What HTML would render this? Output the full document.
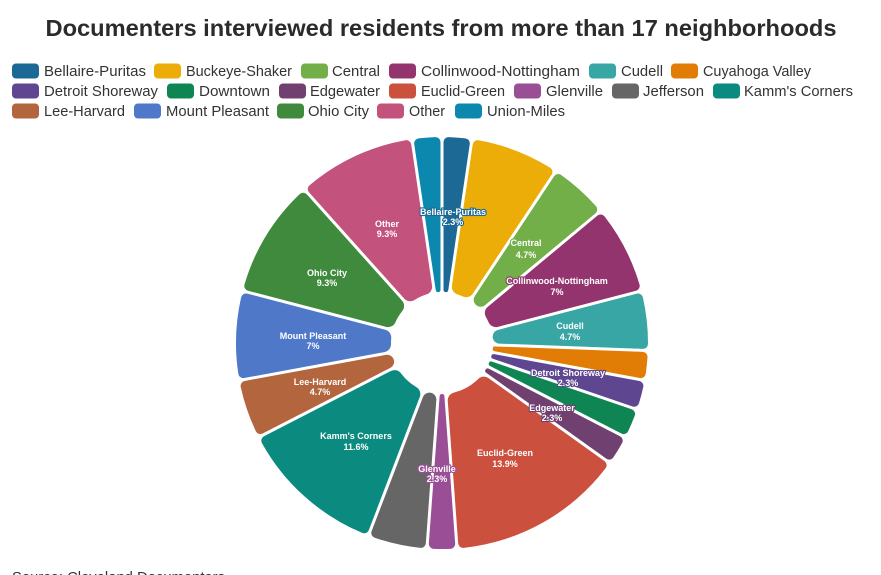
<!DOCTYPE html>
<html>
<head>
<meta charset="utf-8">
<style>
  html,body{margin:0;padding:0;background:#fff;}
  svg{display:block;}
  .lg{font-family:"Liberation Sans",sans-serif;font-size:15px;fill:#333;}
  .lb{font-family:"Liberation Sans",sans-serif;font-size:9px;font-weight:bold;fill:#fff;text-anchor:middle;paint-order:stroke;stroke-width:2.2px;stroke-linejoin:round;}
</style>
</head>
<body>
<svg width="881" height="575" viewBox="0 0 881 575" xmlns="http://www.w3.org/2000/svg">
  <rect width="881" height="575" fill="#fff"/>
  <text x="441" y="36" text-anchor="middle" font-family="Liberation Sans, sans-serif" font-weight="bold" font-size="23" fill="#2b2b2b" textLength="791" lengthAdjust="spacingAndGlyphs">Documenters interviewed residents from more than 17 neighborhoods</text>

  <!-- legend row 1 -->
  <rect x="12" y="63.5" width="27" height="15" rx="4" fill="#1D6996"/>
  <text class="lg" x="44" y="76" textLength="102" lengthAdjust="spacingAndGlyphs">Bellaire-Puritas</text>
  <rect x="154" y="63.5" width="27" height="15" rx="4" fill="#EDAD08"/>
  <text class="lg" x="186" y="76" textLength="106" lengthAdjust="spacingAndGlyphs">Buckeye-Shaker</text>
  <rect x="301" y="63.5" width="27" height="15" rx="4" fill="#73AF48"/>
  <text class="lg" x="332" y="76" textLength="48" lengthAdjust="spacingAndGlyphs">Central</text>
  <rect x="389" y="63.5" width="27" height="15" rx="4" fill="#94346E"/>
  <text class="lg" x="421" y="76" textLength="159" lengthAdjust="spacingAndGlyphs">Collinwood-Nottingham</text>
  <rect x="589" y="63.5" width="27" height="15" rx="4" fill="#38A6A5"/>
  <text class="lg" x="621" y="76" textLength="42" lengthAdjust="spacingAndGlyphs">Cudell</text>
  <rect x="671" y="63.5" width="27" height="15" rx="4" fill="#E17C05"/>
  <text class="lg" x="703" y="76" textLength="108" lengthAdjust="spacingAndGlyphs">Cuyahoga Valley</text>

  <!-- legend row 2 -->
  <rect x="12" y="83.5" width="27" height="15" rx="4" fill="#5F4690"/>
  <text class="lg" x="44" y="96" textLength="114" lengthAdjust="spacingAndGlyphs">Detroit Shoreway</text>
  <rect x="167" y="83.5" width="27" height="15" rx="4" fill="#0F8554"/>
  <text class="lg" x="199" y="96" textLength="71" lengthAdjust="spacingAndGlyphs">Downtown</text>
  <rect x="279" y="83.5" width="27" height="15" rx="4" fill="#6F4070"/>
  <text class="lg" x="310" y="96" textLength="70" lengthAdjust="spacingAndGlyphs">Edgewater</text>
  <rect x="389" y="83.5" width="27" height="15" rx="4" fill="#CC503E"/>
  <text class="lg" x="421" y="96" textLength="84" lengthAdjust="spacingAndGlyphs">Euclid-Green</text>
  <rect x="514" y="83.5" width="27" height="15" rx="4" fill="#994E95"/>
  <text class="lg" x="546" y="96" textLength="57" lengthAdjust="spacingAndGlyphs">Glenville</text>
  <rect x="612" y="83.5" width="27" height="15" rx="4" fill="#666666"/>
  <text class="lg" x="643" y="96" textLength="61" lengthAdjust="spacingAndGlyphs">Jefferson</text>
  <rect x="713" y="83.5" width="27" height="15" rx="4" fill="#0B8A80"/>
  <text class="lg" x="744" y="96" textLength="109" lengthAdjust="spacingAndGlyphs">Kamm's Corners</text>

  <!-- legend row 3 -->
  <rect x="12" y="103.5" width="27" height="15" rx="4" fill="#B3653D"/>
  <text class="lg" x="44" y="116" textLength="81" lengthAdjust="spacingAndGlyphs">Lee-Harvard</text>
  <rect x="134" y="103.5" width="27" height="15" rx="4" fill="#4F78C8"/>
  <text class="lg" x="166" y="116" textLength="103" lengthAdjust="spacingAndGlyphs">Mount Pleasant</text>
  <rect x="277" y="103.5" width="27" height="15" rx="4" fill="#3F8A3C"/>
  <text class="lg" x="308" y="116" textLength="61" lengthAdjust="spacingAndGlyphs">Ohio City</text>
  <rect x="377" y="103.5" width="27" height="15" rx="4" fill="#C3527D"/>
  <text class="lg" x="409" y="116" textLength="36" lengthAdjust="spacingAndGlyphs">Other</text>
  <rect x="455" y="103.5" width="27" height="15" rx="4" fill="#0C87AD"/>
  <text class="lg" x="487" y="116" textLength="78" lengthAdjust="spacingAndGlyphs">Union-Miles</text>

  <g id="slices"></g>

  <!-- slice labels -->
  <text class="lb" stroke="#1D6996" x="453" y="215">Bellaire-Puritas</text>
  <text class="lb" stroke="#1D6996" x="453" y="225">2.3%</text>
  <text class="lb" stroke="#73AF48" x="526" y="246">Central</text>
  <text class="lb" stroke="#73AF48" x="526" y="258">4.7%</text>
  <text class="lb" stroke="#94346E" x="557" y="284">Collinwood-Nottingham</text>
  <text class="lb" stroke="#94346E" x="557" y="295">7%</text>
  <text class="lb" stroke="#38A6A5" x="570" y="329">Cudell</text>
  <text class="lb" stroke="#38A6A5" x="570" y="340">4.7%</text>
  <text class="lb" stroke="#5F4690" x="568" y="376">Detroit Shoreway</text>
  <text class="lb" stroke="#5F4690" x="568" y="386">2.3%</text>
  <text class="lb" stroke="#6F4070" x="552" y="411">Edgewater</text>
  <text class="lb" stroke="#6F4070" x="552" y="421">2.3%</text>
  <text class="lb" stroke="#CC503E" x="505" y="456">Euclid-Green</text>
  <text class="lb" stroke="#CC503E" x="505" y="467">13.9%</text>
  <text class="lb" stroke="#994E95" x="437" y="472">Glenville</text>
  <text class="lb" stroke="#994E95" x="437" y="482">2.3%</text>
  <text class="lb" stroke="#0B8A80" x="356" y="439">Kamm's Corners</text>
  <text class="lb" stroke="#0B8A80" x="356" y="450">11.6%</text>
  <text class="lb" stroke="#B3653D" x="320" y="385">Lee-Harvard</text>
  <text class="lb" stroke="#B3653D" x="320" y="395">4.7%</text>
  <text class="lb" stroke="#4F78C8" x="313" y="339">Mount Pleasant</text>
  <text class="lb" stroke="#4F78C8" x="313" y="349">7%</text>
  <text class="lb" stroke="#3F8A3C" x="327" y="276">Ohio City</text>
  <text class="lb" stroke="#3F8A3C" x="327" y="286">9.3%</text>
  <text class="lb" stroke="#C3527D" x="387" y="227">Other</text>
  <text class="lb" stroke="#C3527D" x="387" y="237">9.3%</text>

  <text class="lg" x="12" y="582" textLength="213" lengthAdjust="spacingAndGlyphs">Source: Cleveland Documenters</text>
</svg>
<script>
(function(){
  var data=[
    [1,"#1D6996"],[3,"#EDAD08"],[2,"#73AF48"],[3,"#94346E"],[2,"#38A6A5"],
    [1,"#E17C05"],[1,"#5F4690"],[1,"#0F8554"],[1,"#6F4070"],[6,"#CC503E"],
    [1,"#994E95"],[2,"#666666"],[5,"#0B8A80"],[2,"#B3653D"],[3,"#4F78C8"],
    [4,"#3F8A3C"],[4,"#C3527D"],[1,"#0C87AD"]
  ];
  var cx=442, cy=343, R=206, r0=51, h=1.5, CO=5, CI=8, TOTAL=43;
  function f(p){return p[0].toFixed(2)+","+p[1].toFixed(2);}
  function P(rho,th){return [cx+rho*Math.sin(th), cy-rho*Math.cos(th)];}
  var acc=0, html="";
  for(var i=0;i<data.length;i++){
    var c=data[i][0], col=data[i][1];
    var a0=acc/TOTAL*2*Math.PI, a1=(acc+c)/TOTAL*2*Math.PI; acc+=c;
    var hs=(a1-a0)/2, s=Math.sin(hs);
    var ci=Math.min(CI, Math.max(0.5,(s*r0-h)/(1-s)));
    var co=CO;
    var to=Math.sqrt((R-co)*(R-co)-(h+co)*(h+co));
    var ti=Math.sqrt((r0+ci)*(r0+ci)-(h+ci)*(h+ci));
    var ao=Math.asin((h+co)/(R-co));
    var ai=Math.min(hs, Math.asin(Math.min(1,(h+ci)/(r0+ci))));
    var S0i=[cx+ti*Math.sin(a0)+h*Math.cos(a0), cy-ti*Math.cos(a0)+h*Math.sin(a0)];
    var S0o=[cx+to*Math.sin(a0)+h*Math.cos(a0), cy-to*Math.cos(a0)+h*Math.sin(a0)];
    var O0=P(R,a0+ao), O1=P(R,a1-ao);
    var S1o=[cx+to*Math.sin(a1)-h*Math.cos(a1), cy-to*Math.cos(a1)-h*Math.sin(a1)];
    var S1i=[cx+ti*Math.sin(a1)-h*Math.cos(a1), cy-ti*Math.cos(a1)-h*Math.sin(a1)];
    var I1=P(r0,a1-ai), I0=P(r0,a0+ai);
    var large=(a1-a0)>Math.PI?1:0;
    var d="M"+f(S0i)+" L"+f(S0o)+" A"+co+" "+co+" 0 0 1 "+f(O0)+
          " A"+R+" "+R+" 0 "+large+" 1 "+f(O1)+
          " A"+co+" "+co+" 0 0 1 "+f(S1o)+" L"+f(S1i)+
          " A"+ci.toFixed(2)+" "+ci.toFixed(2)+" 0 0 1 "+f(I1)+
          " A"+r0+" "+r0+" 0 0 0 "+f(I0)+
          " A"+ci.toFixed(2)+" "+ci.toFixed(2)+" 0 0 1 "+f(S0i)+" Z";
    html+='<path d="'+d+'" fill="'+col+'"/>';
  }
  document.getElementById("slices").innerHTML=html;
})();
</script>
</body>
</html>
